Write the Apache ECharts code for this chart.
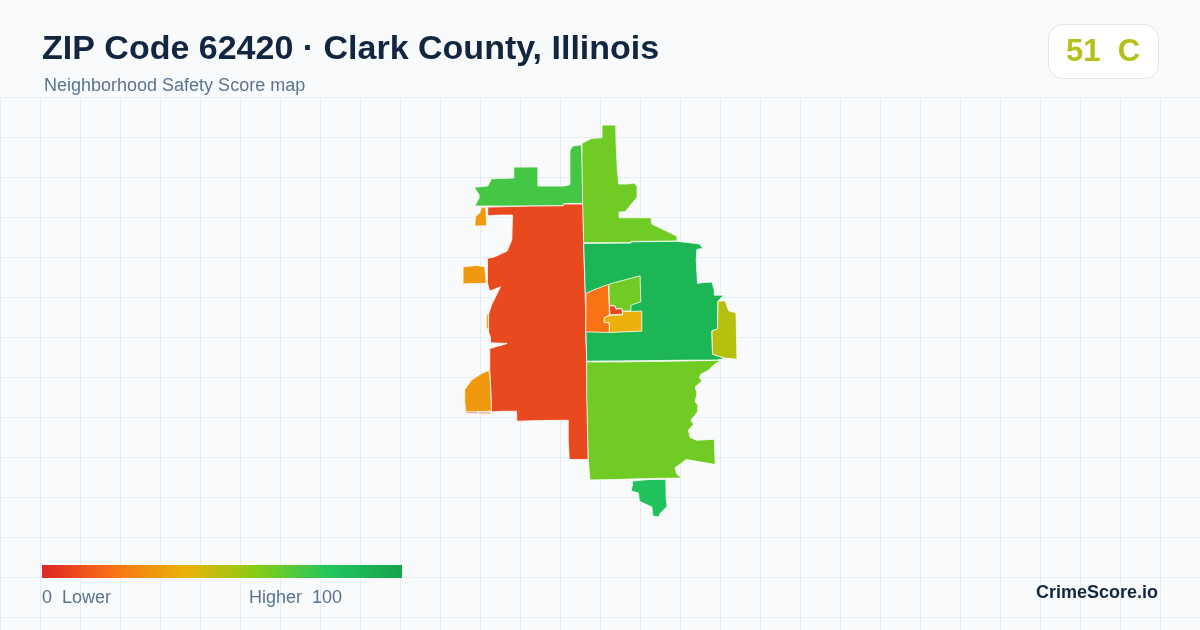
<!DOCTYPE html>
<html>
<head>
<meta charset="utf-8">
<title>ZIP Code 62420</title>
<script src="https://cdn.jsdelivr.net/npm/echarts@6/dist/echarts.min.js"></script>
<style>
  html, body { margin: 0; padding: 0; background: #f8fafc; }
  #chart { width: 1200px; height: 630px; }
</style>
</head>
<body>
<div id="chart"></div>
<script>
const tractNames = ['northwest', 'northwestSpur', 'west', 'westTab', 'westSliver', 'southwestTab', 'north',
  'central', 'innerOrange', 'innerLime', 'innerRed', 'innerYellow', 'east', 'south', 'southTip'];
const tractScores = [73, 32, 9, 32, 38, 32, 64, 89, 20, 64, 9, 39, 50, 64, 82];

// outlines, [x, y] in the picture's own units
const northwest = [[474.3,187.3],[488,186],[491.7,178.7],[514,178],[514,167],[538,167],[538,186],[564,186],[570,184.7],[570,150.7],[572.7,146],[581.3,144.7],[582.7,170],[583.3,203.3],[564,203.7],[563.3,205.7],[531.7,206],[475,206],[479.3,198.3],[479.3,194.7]];
const northwestSpur = [[481.7,207.3],[486,207],[487,225.7],[475,226],[475.7,216.7],[480,212.7]];
const west = [[488,207],[531.7,206],[563.3,205.7],[564,204],[583.3,204],[583.7,243],[585.3,293],[586,340],[587,360],[587.3,396.7],[588,426.7],[588.3,459.3],[569.3,459.3],[568.3,440],[568.3,420],[541.7,420.3],[517,421],[516.7,411],[503.3,411],[491.7,411.7],[490.7,383.3],[490,370],[490,348.3],[507.3,343.3],[490.7,342.7],[490.7,337.3],[488.3,330],[489,313.3],[491.7,305],[500.7,286.7],[490,291],[487.7,283.3],[487.7,258.3],[495,256.7],[507.3,251],[512,240],[512.7,215],[500,215],[488,215.7]];
const westCrumbA = [[466,411.8],[478,411.8],[478,413.4],[466,413.4]];
const westCrumbB = [[479,412],[491,412],[491,413.6],[479,413.6]];
const westTab = [[463.3,266.7],[476.7,265.3],[485,266.7],[486.7,283.3],[471.7,283.3],[463.3,284]];
const westSliver = [[488.5,312],[489,331],[486.5,327],[486.5,316]];
const southwestTab = [[489.3,370],[490.7,383.3],[491.7,411],[466,411.7],[465,401.7],[465,389.3],[471.7,380],[481.7,373.3]];
const north = [[582,143.3],[592,138.3],[602,137.7],[602,125],[615.7,125],[616,141.7],[617.3,170],[618.7,184],[627.3,184],[634,183],[637,186],[637,197.3],[625,211.7],[619,212],[619,217.7],[651,217.7],[651.7,224],[676.7,236],[677,241],[631,241.3],[631,242.7],[583.7,242.7],[582.7,203.3],[582,163.3]];
const central = [[583.7,243.3],[630.7,243],[631,241.7],[676.7,241.3],[690,242.7],[699.3,244],[702.7,248.3],[696.7,249.3],[696,260],[697.3,283.3],[703.3,282.3],[711.7,282],[714,290],[714,295],[723.3,295],[717.7,301],[717.3,329.3],[711.7,330.7],[712.3,354],[725,358],[716.7,360],[688.3,360],[620,360.7],[586.7,361],[586,333.3],[585.3,293]];
const innerOrange = [[586,293.3],[595,289.3],[608.3,284.3],[609.3,305],[609.3,315],[604.3,317.7],[604.3,322.3],[609.3,322.7],[609.3,332.3],[596.7,332],[585.7,331.7]];
const innerLime = [[609,284],[640,275.7],[640.7,301.7],[631,305],[630.7,310.7],[622.7,311.3],[621.7,308.3],[616,309],[615,305.7],[609.3,305]];
const innerRed = [[609.3,305.7],[615,305.7],[616,309],[621.7,308.3],[622.7,314],[610,314.7]];
const innerYellow = [[631,311.3],[641.7,311],[641.7,331],[609.3,332.3],[609.3,322.7],[604.3,322.3],[604.3,317.7],[610,315.3],[622.7,314.7],[622.7,311.3]];
const east = [[717.7,301],[725,300.7],[728.3,310.7],[735.7,312.7],[736.7,359],[725,358],[718.3,356],[712.3,354],[711.7,330.7],[717.3,328.7]];
const south = [[586.7,361.7],[620,361.7],[688.3,360.7],[720.7,360],[713.3,365],[708.3,370],[700.7,374],[699.3,377.3],[701.7,380.7],[695,386.7],[696.7,393.3],[695,401.7],[697.7,405],[697.3,411.7],[690.7,420],[693.3,424],[688.3,430],[690,437.3],[696.7,440],[714,439],[715,464.3],[686,459.3],[680,464],[675,467.3],[676.7,474],[681.7,477.7],[648.3,478.3],[613.3,479.3],[590,479.7],[588.3,460],[586.7,393]];
const southTip = [[632.3,480.7],[648.3,479.3],[665.7,479],[666,498.3],[667,506],[660,513.3],[658.3,516.7],[652.7,515.7],[651.7,506.7],[639.3,501],[638.3,492.7],[631,490.7],[632.3,485]];

const tractOutlines = [[northwest], [northwestSpur], [west, westCrumbA, westCrumbB], [westTab], [westSliver], [southwestTab], [north],
  [central], [innerOrange], [innerLime], [innerRed], [innerYellow], [east], [south], [southTip]];

// legend colours, evenly spaced from 0 to 100
const scoreColors = ['#dc2626', '#f97316', '#eab308', '#84cc16', '#22c55e', '#16a34a'];

const titleText = 'ZIP Code 62420 · Clark County, Illinois';
const subtitleText = 'Neighborhood Safety Score map';
const badgeText = '51  C';
const brandText = 'CrimeScore.io';
const legendLowText = '0  Lower';
const legendHighText = 'Higher  100';

const fontName = '"Liberation Sans", Arial, sans-serif';

// outlines are already in picture units, so the map gets a flat projection
const geoJson = {
  type: 'FeatureCollection',
  features: tractNames.map((name, i) => ({
    type: 'Feature',
    properties: { name: name },
    geometry: { type: 'MultiPolygon', coordinates: tractOutlines[i].map(ring => [ring]) }
  }))
};
echarts.registerMap('zip62420', geoJson);

const myChart = echarts.init(document.getElementById('chart'));

const option = {
  backgroundColor: '#f8fafc',
  animation: false,
  title: [
    { text: titleText, left: 42, top: 33, padding: 0,
      textStyle: { fontFamily: fontName, fontSize: 34, fontWeight: 'bold', color: '#12263f' } },
    { text: subtitleText, left: 44, top: 77, padding: 0,
      textStyle: { fontFamily: fontName, fontSize: 18, fontWeight: 'normal', color: '#5b7390' } }
  ],
  // background lattice
  grid: { left: 0, right: 0, top: 97, bottom: 0 },
  xAxis: {
    type: 'value', min: 0, max: 1200, interval: 40,
    axisLine: { show: false }, axisTick: { show: false }, axisLabel: { show: false },
    splitLine: { show: true, lineStyle: { color: '#e5edf2', width: 1 } }
  },
  yAxis: {
    type: 'value', min: 0, max: 533, interval: 40, inverse: true,
    axisLine: { show: false }, axisTick: { show: false }, axisLabel: { show: false },
    splitLine: { show: true, lineStyle: { color: '#e5edf2', width: 1 } }
  },
  // the built-in bar has rounded ends, so it stays hidden and the legend is drawn below
  visualMap: {
    type: 'continuous',
    show: false,
    seriesIndex: 0,
    min: 0,
    max: 100,
    inRange: { color: scoreColors }
  },
  series: [
    {
      type: 'map',
      map: 'zip62420',
      projection: {
        project: pt => pt,
        unproject: pt => pt
      },
      left: 463,
      top: 125,
      width: 274,
      height: 392,
      roam: false,
      silent: true,
      selectedMode: false,
      label: { show: false },
      itemStyle: { borderColor: '#ffffff', borderWidth: 0.8 },
      data: tractNames.map((name, i) => ({ name: name, value: tractScores[i] }))
    }
  ],
  graphic: [
    // score badge
    { type: 'rect', shape: { x: 1048.5, y: 24.5, width: 110, height: 54, r: 14 }, z: 5,
      style: { fill: '#ffffff', stroke: '#dfe5ec', lineWidth: 1 } },
    { type: 'text', x: 1066, y: 52, z: 6,
      style: { text: badgeText, font: 'bold 31px ' + fontName, fill: '#b5c11a', textVerticalAlign: 'middle' } },
    // legend bar
    { type: 'rect', shape: { x: 42, y: 565, width: 360, height: 13 }, z: 5,
      style: {
        fill: new echarts.graphic.LinearGradient(0, 0, 1, 0,
          scoreColors.map((color, i) => ({ offset: i / (scoreColors.length - 1), color: color })))
      } },
    // legend captions
    { type: 'text', x: 42, y: 598, z: 6,
      style: { text: legendLowText, font: '18px ' + fontName, fill: '#5b7390', textVerticalAlign: 'middle' } },
    { type: 'text', x: 249, y: 598, z: 6,
      style: { text: legendHighText, font: '18px ' + fontName, fill: '#5b7390', textVerticalAlign: 'middle' } },
    // brand mark
    { type: 'text', x: 1158, y: 593, z: 6,
      style: { text: brandText, font: 'bold 18px ' + fontName, fill: '#12263f', textAlign: 'right', textVerticalAlign: 'middle' } }
  ]
};

myChart.setOption(option);
</script>
</body>
</html>
